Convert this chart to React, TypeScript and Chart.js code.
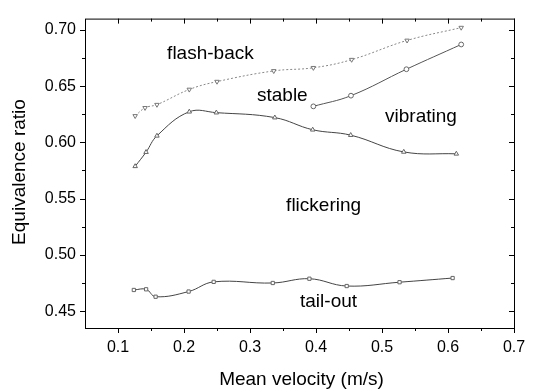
import React, { useEffect, useRef } from "react";
import { Chart, registerables } from "chart.js";

Chart.register(...registerables);

// ---- data ----
const flashX = [0.126, 0.141, 0.159, 0.208, 0.25, 0.336, 0.396, 0.454, 0.538, 0.62];
const flashY = [0.6235, 0.6307, 0.6335, 0.647, 0.654, 0.6635, 0.6663, 0.6735, 0.6906, 0.702];

const vibX = [0.396, 0.453, 0.537, 0.62];
const vibY = [0.632, 0.6415, 0.665, 0.687];

const flickX = [0.126, 0.1425, 0.159, 0.208, 0.249, 0.3376, 0.395, 0.4526, 0.533, 0.6126];
const flickY = [0.5787, 0.5913, 0.6058, 0.6272, 0.6264, 0.622, 0.6112, 0.6064, 0.5915, 0.5898];

const tailX = [0.124, 0.1426, 0.157, 0.207, 0.245, 0.3345, 0.39, 0.4465, 0.5266, 0.607];
const tailY = [0.4688, 0.4694, 0.4628, 0.4674, 0.476, 0.475, 0.4788, 0.4723, 0.4757, 0.4794];

const xTicks = [0.1, 0.2, 0.3, 0.4, 0.5, 0.6, 0.7];
const xMinor = [0.15, 0.25, 0.35, 0.45, 0.55, 0.65];
const yTicks = [0.45, 0.5, 0.55, 0.6, 0.65, 0.7];
const yMinor = [0.475, 0.525, 0.575, 0.625, 0.675];

const regionLabels = ["flash-back", "stable", "vibrating", "flickering", "tail-out"];
const regionX = [0.24, 0.349, 0.559, 0.4115, 0.419];
const regionY = [0.6786, 0.641, 0.623, 0.5433, 0.4586];

const xTitle = "Mean velocity (m/s)";
const yTitle = "Equivalence ratio";

const FONT = "'Liberation Sans', Arial, sans-serif";

const toPts = (xs: number[], ys: number[]) => xs.map((x, i) => ({ x, y: ys[i] }));

const framePlugin = {
  id: "frameTicks",
  afterDraw(chart: any) {
    const { ctx, chartArea: a, scales } = chart;
    const xs = scales.x;
    const ys = scales.y;
    ctx.save();
    ctx.strokeStyle = "#000";
    ctx.lineWidth = 1;
    ctx.strokeRect(a.left + 0.5, a.top + 0.5, a.right - a.left, a.bottom - a.top);
    const tick = (x1: number, y1: number, x2: number, y2: number) => {
      ctx.beginPath();
      ctx.moveTo(x1, y1);
      ctx.lineTo(x2, y2);
      ctx.stroke();
    };
    const maj = 5;
    const min = 3;
    xTicks.forEach((v) => {
      const p = Math.round(xs.getPixelForValue(v)) + 0.5;
      tick(p, a.bottom, p, a.bottom + maj);
      tick(p, a.top, p, a.top + maj);
    });
    xMinor.forEach((v) => {
      const p = Math.round(xs.getPixelForValue(v)) + 0.5;
      tick(p, a.bottom, p, a.bottom + min);
      tick(p, a.top, p, a.top + min);
    });
    yTicks.forEach((v) => {
      const p = Math.round(ys.getPixelForValue(v)) + 0.5;
      tick(a.left, p, a.left - maj, p);
      tick(a.right, p, a.right - maj, p);
    });
    yMinor.forEach((v) => {
      const p = Math.round(ys.getPixelForValue(v)) + 0.5;
      tick(a.left, p, a.left - min, p);
      tick(a.right, p, a.right - min, p);
    });

    // region labels
    ctx.fillStyle = "#000";
    ctx.textAlign = "center";
    ctx.textBaseline = "middle";
    ctx.font = `19px ${FONT}`;
    regionLabels.forEach((t, i) => {
      ctx.fillText(t, xs.getPixelForValue(regionX[i]), ys.getPixelForValue(regionY[i]));
    });

    // axis titles
    ctx.font = `19px ${FONT}`;
    ctx.fillText(xTitle, (a.left + a.right) / 2 + 2, 380);
    ctx.save();
    ctx.translate(20, 172);
    ctx.rotate(-Math.PI / 2);
    ctx.fillText(yTitle, 0, 0);
    ctx.restore();
    ctx.restore();
  },
};

export default function App() {
  const ref = useRef<HTMLCanvasElement | null>(null);

  useEffect(() => {
    if (!ref.current) return;
    const lineCommon = {
      showLine: true,
      tension: 0.4,
      borderWidth: 1,
      pointRadius: 2.6,
      pointBackgroundColor: "#fff",
      pointBorderWidth: 1,
      fill: false,
    };
    const chart = new Chart(ref.current, {
      type: "scatter",
      data: {
        datasets: [
          {
            ...lineCommon,
            label: "flash-back",
            data: toPts(flashX, flashY),
            borderColor: "#888",
            pointBorderColor: "#777",
            borderDash: [2, 2],
            pointStyle: "triangle",
            rotation: 180,
          },
          {
            ...lineCommon,
            label: "vibrating",
            data: toPts(vibX, vibY),
            borderColor: "#555",
            pointBorderColor: "#666",
            pointStyle: "circle",
            pointRadius: 2.4,
          },
          {
            ...lineCommon,
            label: "flickering",
            data: toPts(flickX, flickY),
            borderColor: "#444",
            pointBorderColor: "#666",
            pointStyle: "triangle",
          },
          {
            ...lineCommon,
            label: "tail-out",
            data: toPts(tailX, tailY),
            borderColor: "#444",
            pointBorderColor: "#666",
            pointStyle: "rect",
            pointRadius: 2.3,
          },
        ] as any,
      },
      options: {
        animation: false,
        responsive: false,
        events: [],
        layout: { padding: { top: 7, right: 22, left: 0, bottom: 0 } },
        plugins: {
          legend: { display: false },
          tooltip: { enabled: false },
        },
        scales: {
          x: {
            type: "linear",
            min: 0.05,
            max: 0.7,
            grid: { display: false, drawTicks: false },
            border: { display: false },
            afterBuildTicks: (s: any) => {
              s.ticks = xTicks.map((v) => ({ value: v }));
            },
            afterFit: (s: any) => {
              s.height = 63;
            },
            ticks: {
              padding: 10,
              color: "#000",
              font: { family: FONT, size: 16 },
              maxRotation: 0,
              callback: (v: any) => Number(v).toFixed(1),
            },
          },
          y: {
            type: "linear",
            min: 0.435,
            max: 0.71,
            grid: { display: false, drawTicks: false },
            border: { display: false },
            afterBuildTicks: (s: any) => {
              s.ticks = yTicks.map((v) => ({ value: v }));
            },
            afterFit: (s: any) => {
              s.width = 85;
            },
            ticks: {
              padding: 9,
              color: "#000",
              font: { family: FONT, size: 16 },
              callback: (v: any) => Number(v).toFixed(2),
            },
          },
        },
      } as any,
      plugins: [framePlugin],
    });
    return () => chart.destroy();
  }, []);

  return (
    <div style={{ position: "absolute", left: 0, top: 0, width: 536, height: 391, background: "#fff" }}>
      <canvas ref={ref} width={536} height={391} />
    </div>
  );
}
